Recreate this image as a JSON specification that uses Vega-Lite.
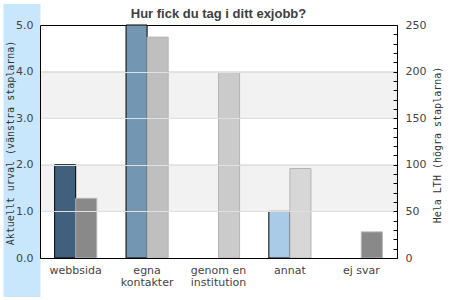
{
  "$schema": "https://vega.github.io/schema/vega-lite/v6.json",
  "width": 357,
  "height": 233,
  "autosize": {"type": "none"},
  "padding": {"left": 40, "top": 25, "right": 53, "bottom": 42},
  "background": "white",
  "title": {
    "text": "Hur fick du tag i ditt exjobb?",
    "font": "Liberation Sans",
    "fontSize": 13,
    "fontWeight": "bold",
    "color": "#404040",
    "anchor": "middle",
    "frame": "group",
    "offset": 5,
    "dy": 22
  },
  "config": {
    "view": {"stroke": "black", "strokeWidth": 1},
    "axis": {
      "labelFont": "DejaVu Sans",
      "labelFontSize": 11,
      "labelColor": "#444444",
      "titleFont": "DejaVu Sans Mono",
      "titleFontSize": 10,
      "titleFontWeight": "normal",
      "titleColor": "#333333",
      "domainColor": "black",
      "tickColor": "black"
    }
  },
  "datasets": {
    "urval": [
      {"kategori": "webbsida", "serie": "Aktuellt urval", "antal": 2},
      {"kategori": "egna kontakter", "serie": "Aktuellt urval", "antal": 5},
      {"kategori": "genom en institution", "serie": "Aktuellt urval", "antal": 0},
      {"kategori": "annat", "serie": "Aktuellt urval", "antal": 1},
      {"kategori": "ej svar", "serie": "Aktuellt urval", "antal": 0}
    ],
    "lth": [
      {"kategori": "webbsida", "serie": "Hela LTH", "antal": 64},
      {"kategori": "egna kontakter", "serie": "Hela LTH", "antal": 237},
      {"kategori": "genom en institution", "serie": "Hela LTH", "antal": 199},
      {"kategori": "annat", "serie": "Hela LTH", "antal": 96},
      {"kategori": "ej svar", "serie": "Hela LTH", "antal": 28}
    ],
    "band": [
      {"fran": 1, "till": 2},
      {"fran": 3, "till": 4}
    ]
  },
  "layer": [
    {
      "data": {"name": "band"},
      "mark": {"type": "rect", "fill": "#f2f2f2", "stroke": "#e0e0e0", "strokeWidth": 1},
      "encoding": {
        "y": {
          "field": "fran",
          "type": "quantitative",
          "scale": {"domain": [0, 5], "nice": false},
          "axis": {
            "orient": "left",
            "values": [2.328],
            "labels": false,
            "domain": false,
            "grid": false,
            "ticks": true,
            "tickSize": 37,
            "tickWidth": 293,
            "tickColor": "#c8e6fc",
            "tickCap": "butt",
            "title": null,
            "zindex": 0
          }
        },
        "y2": {"field": "till"}
      }
    },
    {
      "data": {"name": "urval"},
      "transform": [{"filter": "datum.antal > 0"}],
      "mark": {"type": "bar", "stroke": "black", "strokeWidth": 1},
      "encoding": {
        "x": {
          "field": "kategori",
          "type": "nominal",
          "sort": ["webbsida", "egna kontakter", "genom en institution", "annat", "ej svar"],
          "scale": {
            "domain": ["webbsida", "egna kontakter", "genom en institution", "annat", "ej svar"],
            "paddingInner": 0.41,
            "paddingOuter": 0.205
          },
          "axis": {
            "orient": "bottom",
            "title": null,
            "labelAngle": 0,
            "ticks": false,
            "tickSize": 0,
            "labelPadding": 6,
            "labelLineHeight": 12,
            "labelExpr": "datum.label == 'egna kontakter' ? ['egna', 'kontakter'] : datum.label == 'genom en institution' ? ['genom en', 'institution'] : datum.label",
            "zindex": 1
          }
        },
        "xOffset": {
          "field": "serie",
          "type": "nominal",
          "scale": {"domain": ["Aktuellt urval", "Hela LTH"], "paddingInner": 0, "paddingOuter": 0}
        },
        "y": {
          "field": "antal",
          "type": "quantitative",
          "scale": {"domain": [0, 5], "nice": false},
          "axis": {
            "orient": "left",
            "values": [0, 1, 2, 3, 4, 5],
            "format": ".1f",
            "grid": true,
            "gridColor": {"condition": {"test": "datum.value == 0 || datum.value == 5", "value": "transparent"}, "value": "#e0e0e0"},
            "ticks": false,
            "tickSize": 0,
            "labelPadding": 7,
            "title": "Aktuellt urval (vänstra staplarna)",
            "titleAngle": 270,
            "titleBaseline": "middle",
            "titleAlign": "center",
            "titleX": -30,
            "titleY": 117.5,
            "zindex": 1
          }
        },
        "color": {
          "field": "kategori",
          "type": "nominal",
          "scale": {
            "domain": ["webbsida", "egna kontakter", "genom en institution", "annat", "ej svar"],
            "range": ["#41607e", "#7396b2", "#7396b2", "#a9cbe8", "#7396b2"]
          },
          "legend": null
        }
      }
    },
    {
      "data": {"name": "lth"},
      "mark": {"type": "bar", "stroke": "#b4b4b4", "strokeWidth": 1},
      "encoding": {
        "x": {
          "field": "kategori",
          "type": "nominal",
          "sort": ["webbsida", "egna kontakter", "genom en institution", "annat", "ej svar"]
        },
        "xOffset": {"field": "serie", "type": "nominal"},
        "y": {
          "field": "antal",
          "type": "quantitative",
          "scale": {"domain": [0, 250], "nice": false},
          "axis": {
            "orient": "right",
            "values": [0, 10, 20, 30, 40, 50, 60, 70, 80, 90, 100, 110, 120, 130, 140, 150, 160, 170, 180, 190, 200, 210, 220, 230, 240, 250],
            "labelExpr": "datum.value % 50 == 0 ? datum.label : ''",
            "grid": false,
            "tickSize": -4,
            "labelPadding": 12,
            "title": "Hela LTH (högra staplarna)",
            "titleAngle": 270,
            "titleBaseline": "middle",
            "titleAlign": "center",
            "titleX": 40,
            "titleY": 119.5,
            "zindex": 1
          }
        },
        "color": {
          "field": "kategori",
          "type": "nominal",
          "scale": {
            "domain": ["webbsida", "egna kontakter", "genom en institution", "annat", "ej svar"],
            "range": ["#898989", "#bfbfbf", "#cbcbcb", "#d7d7d7", "#898989"]
          },
          "legend": null
        }
      }
    }
  ],
  "resolve": {
    "scale": {"y": "independent", "color": "independent"},
    "axis": {"y": "independent"}
  }
}
